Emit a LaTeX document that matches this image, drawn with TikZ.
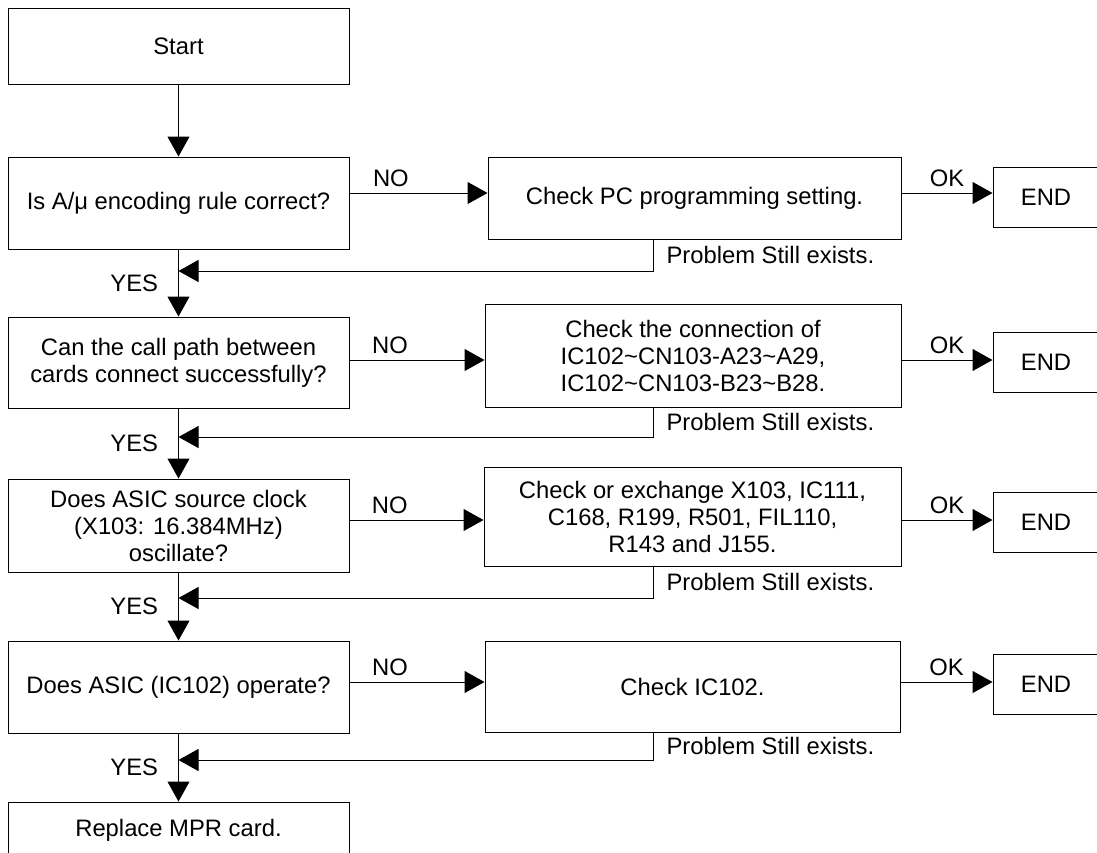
\documentclass[tikz,border=0pt]{standalone}
\usepackage{fontspec}
\setmainfont{Liberation Sans}
\usetikzlibrary{arrows.meta,positioning,calc}

\begin{document}
\begin{tikzpicture}[x=1pt, y=-1pt,
  box/.style={draw, line width=1pt, inner sep=0pt, align=center, font=\fontsize{23.8}{27}\selectfont},
  qbox/.style={box, minimum width=341pt, minimum height=92pt},
  chk/.style={box, minimum width=415pt},
  endbox/.style={box, minimum width=106pt, minimum height=60pt},
  arr/.style={line width=1pt, -{Triangle[length=20pt,width=22pt]}},
  lbl/.style={font=\fontsize{23.8}{27}\selectfont, inner sep=2pt}
]
\useasboundingbox (0,0) rectangle (1097,852);
\clip (0,0) rectangle (1097,852);
\fill[white] (0,0) rectangle (1097,852);

% questions
\node[qbox, minimum height=76pt] (start) at (178.5,46) {Start};
\node[qbox] (isrule) at (178.5,203) {Is A/μ encoding rule correct?};
\node[qbox, minimum height=91pt] (callpath) at (178.5,362.5) {Can the call path between\\cards connect successfully?};
\node[qbox, minimum height=93pt] (clock) at (178.5,525.5) {Does ASIC source clock\\(X103: 16.384MHz)\\oscillate?};
\node[qbox] (asic) at (178.5,687) {Does ASIC (IC102) operate?};
\node[qbox, minimum height=56pt] (replace) at (178.5,830) {Replace MPR card.};

% checks
\node[chk, minimum width=413pt, minimum height=82pt] (chkpc) at (694.5,198) {Check PC programming setting.};
\node[chk, minimum width=416pt, minimum height=103pt] (chkconn) at (693,355.5) {Check the connection of\\IC102\textasciitilde CN103-A23\textasciitilde A29,\\IC102\textasciitilde CN103-B23\textasciitilde B28.};
\node[chk, minimum width=417pt, minimum height=99pt] (chkx) at (692.5,516.5) {Check or exchange X103, IC111,\\C168, R199, R501, FIL110,\\R143 and J155.};
\node[chk, minimum height=91pt] (chkic) at (692.5,686.5) {Check IC102.};

\node[endbox] (end1) at (1046,197) {END};
\node[endbox] (end2) at (1046,362.5) {END};
\node[endbox] (end3) at (1046,522) {END};
\node[endbox] (end4) at (1046,684.5) {END};

\coordinate (row1) at (0,193);
\coordinate (row2) at (0,360);
\coordinate (row3) at (0,520);
\coordinate (row4) at (0,682);
\coordinate (back1) at (653,271);
\coordinate (back2) at (653,437);
\coordinate (back3) at (653,598);
\coordinate (back4) at (653,760);

% yes path
\draw[arr] (start) -- (isrule);
\draw[arr] (isrule) -- node[lbl, left=18pt]{YES} (callpath);
\draw[arr] (callpath) -- node[lbl, left=18pt]{YES} (clock);
\draw[arr] (clock) -- node[lbl, left=18pt]{YES} (asic);
\draw[arr] (asic) -- node[lbl, left=18pt]{YES} (replace);

% no / ok
\draw[arr] (isrule.east |- row1) -- node[lbl, pos=0.3, above=4pt]{NO} (chkpc.west |- row1);
\draw[arr] (callpath.east |- row2) -- node[lbl, pos=0.3, above=4pt]{NO} (chkconn.west |- row2);
\draw[arr] (clock.east |- row3) -- node[lbl, pos=0.3, above=4pt]{NO} (chkx.west |- row3);
\draw[arr] (asic.east |- row4) -- node[lbl, pos=0.3, above=4pt]{NO} (chkic.west |- row4);

\draw[arr] (chkpc.east |- row1) -- node[lbl, above=4pt]{OK} (end1.west |- row1);
\draw[arr] (chkconn.east |- row2) -- node[lbl, above=4pt]{OK} (end2.west |- row2);
\draw[arr] (chkx.east |- row3) -- node[lbl, above=4pt]{OK} (end3.west |- row3);
\draw[arr] (chkic.east |- row4) -- node[lbl, above=4pt]{OK} (end4.west |- row4);

% problem still exists
\draw[arr] (chkpc.south -| back1) -- node[lbl, right=11pt]{Problem Still exists.} (back1) -- (back1 -| isrule.south);
\draw[arr] (chkconn.south -| back2) -- node[lbl, right=11pt]{Problem Still exists.} (back2) -- (back2 -| callpath.south);
\draw[arr] (chkx.south -| back3) -- node[lbl, right=11pt]{Problem Still exists.} (back3) -- (back3 -| clock.south);
\draw[arr] (chkic.south -| back4) -- node[lbl, right=11pt]{Problem Still exists.} (back4) -- (back4 -| asic.south);
\end{tikzpicture}
\end{document}
